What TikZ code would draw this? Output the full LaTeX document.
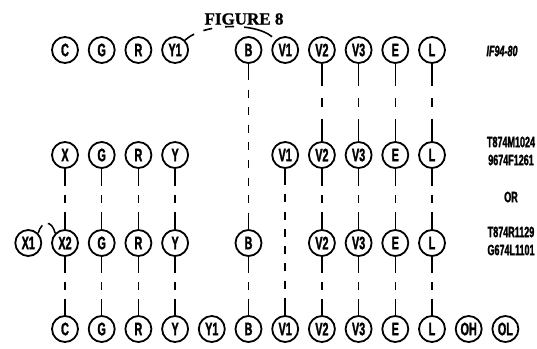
\documentclass[tikz,border=0pt]{standalone}
\usepackage{fontspec}
\newfontfamily\labfont[FakeStretch=0.6,FakeBold=1.5]{Liberation Sans Bold}
\newfontfamily\titfont[FakeBold=1]{Liberation Serif Bold}
\tikzset{
  ball/.style={circle,draw,line width=1.8pt,minimum size=26pt,inner sep=0pt,
    font=\labfont\fontsize{18}{18}\selectfont},
  cn/.style={line width=1.5pt},
  connA/.style={cn,dash pattern=on 22pt off 12pt on 9pt off 12pt on 40pt off 40pt},
  connB/.style={cn,dash pattern=on 17pt off 9pt on 8pt off 9pt on 40pt off 40pt},
  connC/.style={cn,dash pattern=on 16pt off 9pt on 8pt off 9pt on 40pt off 40pt},
  connLB/.style={cn,dash pattern=on 16pt off 9.6pt on 8pt off 9.6pt on 8pt off 9.6pt on 8pt off 9.6pt on 8pt off 9.6pt on 8pt off 9.6pt on 8pt off 9.6pt on 8pt off 9.6pt on 40pt off 40pt},
  connLV/.style={cn,dash pattern=on 16pt off 9.3pt on 8pt off 9.3pt on 8pt off 9.3pt on 8pt off 9.3pt on 8pt off 9.3pt on 8pt off 9.3pt on 8pt off 9.3pt on 40pt off 40pt},
  arcline/.style={line width=1.6pt,dash pattern=on 11pt off 10pt on 9pt off 13pt on 9pt off 10pt on 30pt off 30pt},
  side/.style={font=\labfont\fontsize{15}{15}\selectfont,align=center,inner sep=0pt},
}
\begin{document}
\begin{tikzpicture}[x=1pt,y=-1pt]
\useasboundingbox (0,0) rectangle (537,348);
\node[font=\titfont\fontsize{17}{17}\selectfont,inner sep=0pt] (title) at (244,19) {FIGURE 8};
% top row
\node[ball] (aC) at (65,50) {C};
\node[ball] (aG) at (101.7,50) {G};
\node[ball] (aR) at (138.4,50) {R};
\node[ball] (aY1) at (175.1,50) {Y1};
\node[ball] (aB) at (248.5,50) {B};
\node[ball] (aV1) at (285.2,50) {V1};
\node[ball] (aV2) at (321.9,50) {V2};
\node[ball] (aV3) at (358.6,50) {V3};
\node[ball] (aE) at (395.3,50) {E};
\node[ball] (aL) at (432,50) {L};
% row 2
\node[ball] (bX) at (65,155) {X};
\node[ball] (bG) at (101.7,155) {G};
\node[ball] (bR) at (138.4,155) {R};
\node[ball] (bY) at (175.1,155) {Y};
\node[ball] (bV1) at (285.2,155) {V1};
\node[ball] (bV2) at (321.9,155) {V2};
\node[ball] (bV3) at (358.6,155) {V3};
\node[ball] (bE) at (395.3,155) {E};
\node[ball] (bL) at (432,155) {L};
% row 3
\node[ball] (cX1) at (28.3,243) {X1};
\node[ball] (cX2) at (65,243) {X2};
\node[ball] (cG) at (101.7,243) {G};
\node[ball] (cR) at (138.4,243) {R};
\node[ball] (cY) at (175.1,243) {Y};
\node[ball] (cB) at (248.5,243) {B};
\node[ball] (cV2) at (321.9,243) {V2};
\node[ball] (cV3) at (358.6,243) {V3};
\node[ball] (cE) at (395.3,243) {E};
\node[ball] (cL) at (432,243) {L};
% bottom row
\node[ball] (dC) at (65,329) {C};
\node[ball] (dG) at (101.7,329) {G};
\node[ball] (dR) at (138.4,329) {R};
\node[ball] (dY) at (175.1,329) {Y};
\node[ball] (dY1) at (211.8,329) {Y1};
\node[ball] (dB) at (248.5,329) {B};
\node[ball] (dV1) at (285.2,329) {V1};
\node[ball] (dV2) at (321.9,329) {V2};
\node[ball] (dV3) at (358.6,329) {V3};
\node[ball] (dE) at (395.3,329) {E};
\node[ball] (dL) at (432,329) {L};
\node[ball] (dOH) at (468.7,329) {OH};
\node[ball] (dOL) at (505.4,329) {OL};
% side labels
\node[side,font=\labfont\itshape\fontsize{15}{15}\selectfont] (l1) at (502,51) {IF94-80};
\node[side] (l2) at (511,151) {T874M1024\\[3pt]9674F1261};
\node[side] (l3) at (511,197) {OR};
\node[side] (l4) at (511,241) {T874R1129\\[3pt]G674L1101};
% connectors
\draw[connLB] (aB.south) -- (cB.north);
\draw[connLV] (bV1.south) -- (dV1.north);
\foreach \u/\v in {aV2/bV2,aV3/bV3,aE/bE,aL/bL}
  \draw[connA] (\u.south) -- (\v.north);
\foreach \u/\v in {bX/cX2,bG/cG,bR/cR,bY/cY,bV2/cV2,bV3/cV3,bE/cE,bL/cL}
  \draw[connB] (\u.south) -- (\v.north);
\foreach \u/\v in {cX2/dC,cG/dG,cR/dR,cY/dY,cB/dB,cV2/dV2,cV3/dV3,cE/dE,cL/dL}
  \draw[connC] (\u.south) -- (\v.north);
% arcs
\draw[arcline] (aY1.45) .. controls (205,22) and (262,22) .. (aV1.135);
\draw[line width=1.5pt,dash pattern=on 9pt off 6pt on 30pt off 30pt] (cX1.45) .. controls (42,220) and (52,220) .. (cX2.135);
\end{tikzpicture}
\end{document}
